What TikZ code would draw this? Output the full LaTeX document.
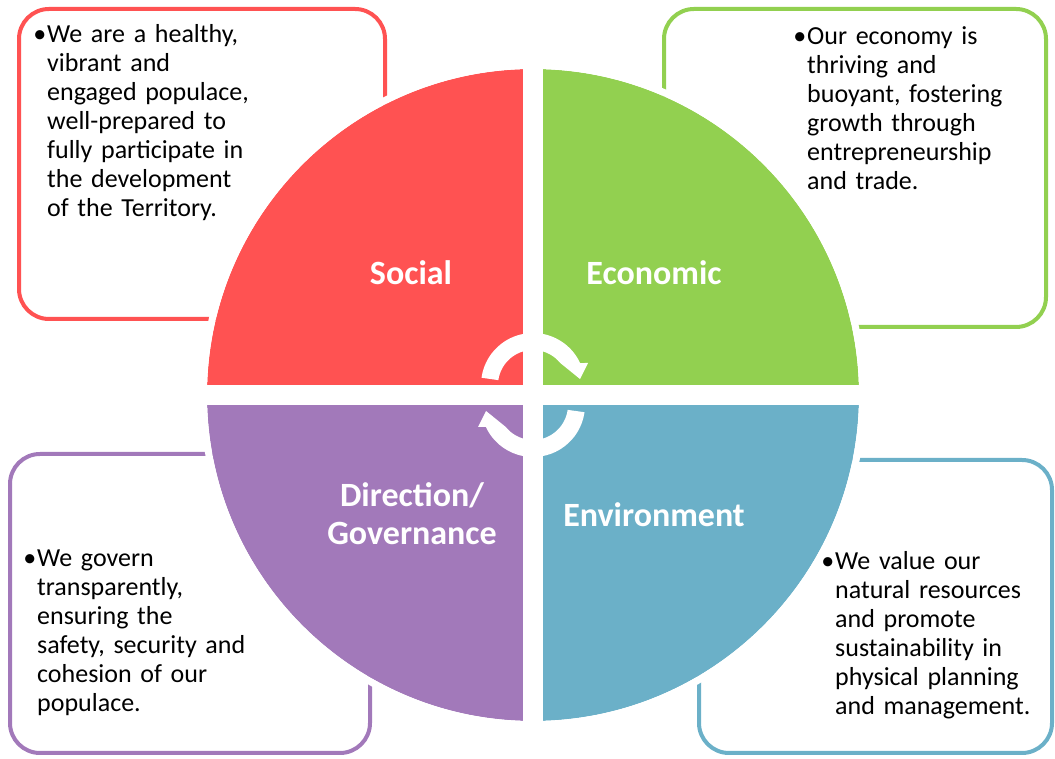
\documentclass[tikz,border=0pt]{standalone}
\usepackage{fontspec}
\setmainfont{Carlito}
\usetikzlibrary{calc}
\definecolor{socred}{RGB}{255,82,82}
\definecolor{ecogreen}{RGB}{146,208,80}
\definecolor{govpurple}{RGB}{162,121,186}
\definecolor{envblue}{RGB}{107,176,200}
\begin{document}
\begin{tikzpicture}[x=1pt,y=1pt,
  box/.style={line width=4pt,rounded corners=30pt},
  gap/.style={draw=white,line width=20pt},
  lbl/.style={text=white,anchor=base,align=center,inner sep=0pt,
    font=\bfseries\fontsize{34}{38}\selectfont},
  txt/.style={anchor=base west,inner sep=0pt,text width=260pt,align=left,
    font=\fontsize{26}{29}\selectfont}]
  \useasboundingbox (0,0) rectangle (1055,759);
  \draw[box,socred] (19,440) rectangle (385,750);
  \draw[box,ecogreen] (664,432) rectangle (1046,750);
  \draw[box,govpurple] (10,6) rectangle (370,305);
  \draw[box,envblue] (699,6) rectangle (1052,299);
  \coordinate (c) at (533,364);
  \fill[socred] (c) -- ++(180:326pt) arc[start angle=180,end angle=90,radius=326pt] -- cycle;
  \fill[ecogreen] (c) -- ++(90:326pt) arc[start angle=90,end angle=0,radius=326pt] -- cycle;
  \fill[envblue] (c) -- ++(0:326pt) arc[start angle=0,end angle=-90,radius=326pt] -- cycle;
  \fill[govpurple] (c) -- ++(-90:326pt) arc[start angle=-90,end angle=-180,radius=326pt] -- cycle;
  \draw[white,line width=7pt] (c) circle[radius=329.5pt];
  \draw[gap] ($(c)+(-326pt,0)$) -- ($(c)+(326pt,0)$);
  \draw[gap] ($(c)+(0,-326pt)$) -- ($(c)+(0,326pt)$);
  % cycle arrows
  \coordinate (a1) at (533,374);
  \coordinate (a2) at (533,354);
  \fill[white] ($(a1)+(172:52pt)$) arc[start angle=172,end angle=25,radius=52pt]
    -- (588,396) -- (580,380) -- ($(a1)+(39:35pt)$)
    arc[start angle=39,end angle=172,radius=35pt] -- cycle;
  \fill[white] ($(a2)+(-8:52pt)$) arc[start angle=-8,end angle=-155,radius=52pt]
    -- (478,332) -- (486,348) -- ($(a2)+(-141:35pt)$)
    arc[start angle=-141,end angle=-8,radius=35pt] -- cycle;
  \node[lbl] (soc) at (411,474) {Social};
  \node[lbl] (eco) at (654,474) {Economic};
  \node[lbl] (gov) at (412,214) {Direction/\\Governance};
  \node[lbl] (env) at (654,232) {Environment};
  \node[txt] (tsoc) at (47,716) {\llap{\textbullet\hspace{1pt}}We are a healthy,\\vibrant and\\engaged populace,\\well-prepared to\\fully participate in\\the development\\of the Territory.};
  \node[txt] (teco) at (807,714) {\llap{\textbullet\hspace{1pt}}Our economy is\\thriving and\\buoyant, fostering\\growth through\\entrepreneurship\\and trade.};
  \node[txt] (tgov) at (37,192) {\llap{\textbullet\hspace{1pt}}We govern\\transparently,\\ensuring the\\safety, security and\\cohesion of our\\populace.};
  \node[txt] (tenv) at (835,189) {\llap{\textbullet\hspace{1pt}}We value our\\natural resources\\and promote\\sustainability in\\physical planning\\and management.};
\end{tikzpicture}
\end{document}
